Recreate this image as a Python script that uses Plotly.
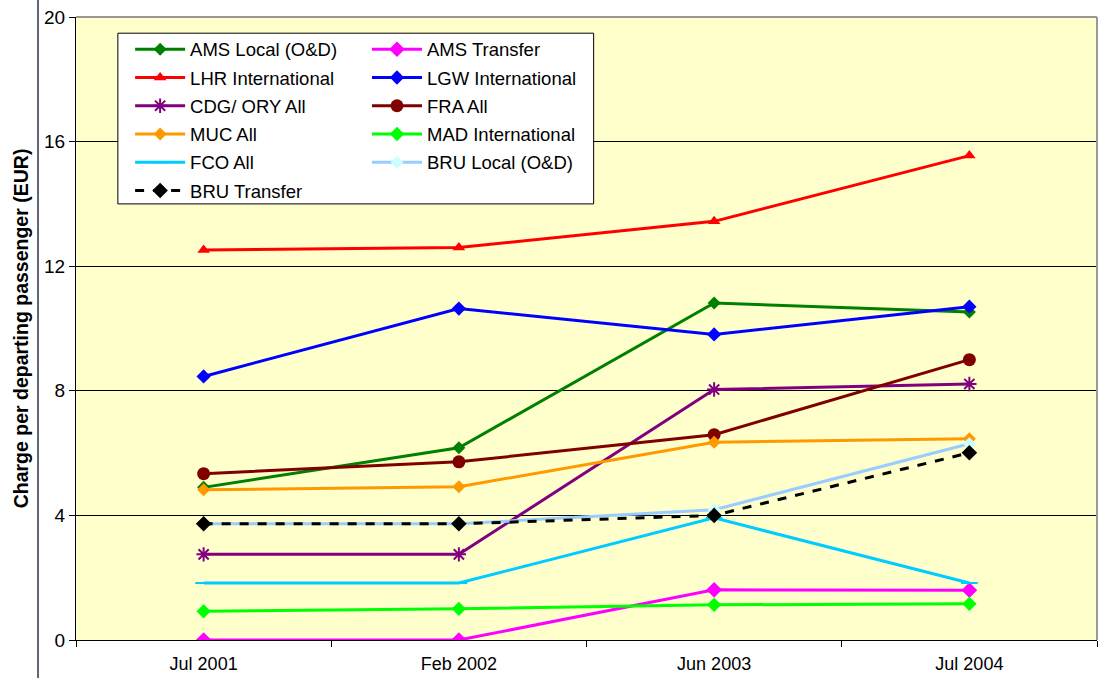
import plotly.graph_objects as go

periods = ["Jul 2001", "Feb 2002", "Jun 2003", "Jul 2004"]

ams_local = [4.9, 6.17, 10.82, 10.53]
ams_transfer = [0.0, 0.0, 1.61, 1.6]
lhr_international = [12.52, 12.6, 13.44, 15.55]
lgw_international = [8.46, 10.64, 9.81, 10.7]
cdg_ory_all = [2.75, 2.75, 8.04, 8.22]
fra_all = [5.34, 5.72, 6.59, 9.0]
muc_all = [4.82, 4.92, 6.35, 6.46]
mad_international = [0.92, 1.0, 1.13, 1.16]
fco_all = [1.83, 1.83, 3.92, 1.83]
bru_local = [3.73, 3.73, 4.18, 6.3]
bru_transfer = [3.73, 3.73, 4.0, 6.01]

series = [
    # name, values, colour, marker symbol, marker size, marker colour, dash, legend
    ("AMS Local (O&D)", ams_local, "#008000", "diamond", 10, "#008000", "solid", "legend"),
    ("AMS Transfer", ams_transfer, "#FF00FF", "diamond", 12, "#FF00FF", "solid", "legend2"),
    ("LHR International", lhr_international, "#FF0000", "triangle-up", 11, "#FF0000", "solid", "legend"),
    ("LGW International", lgw_international, "#0000FF", "diamond", 11, "#0000FF", "solid", "legend2"),
    ("CDG/ ORY All", cdg_ory_all, "#800080", "asterisk-open", 12, "#800080", "solid", "legend"),
    ("FRA All", fra_all, "#800000", "circle", 13, "#800000", "solid", "legend2"),
    ("MUC All", muc_all, "#FF9900", "diamond", 10, "#FF9900", "solid", "legend"),
    ("MAD International", mad_international, "#00FF00", "diamond", 11, "#00FF00", "solid", "legend2"),
    ("FCO All", fco_all, "#00CCFF", "line-ew-open", 12, "#00CCFF", "solid", "legend"),
    ("BRU Local (O&D)", bru_local, "#99CCFF", "diamond", 10, "#CCFFFF", "solid", "legend2"),
    ("BRU Transfer", bru_transfer, "#000000", "diamond", 12, "#000000", "dash", "legend"),
]

fig = go.Figure()
for i, (name, vals, col, sym, size, mcol, dash, leg) in enumerate(series):
    fig.add_trace(go.Scatter(
        x=periods, y=vals, name=name, mode="lines+markers",
        line=dict(color=col, width=3, dash=dash),
        marker=dict(symbol=sym, size=size, color=mcol,
                    line=dict(color=mcol, width=2 if "open" in sym else 0)),
        legend=leg, legendgroup=f"g{i}",
    ))

font_family = "Liberation Sans, Arial, sans-serif"

legend_common = dict(
    bgcolor="rgba(0,0,0,0)", borderwidth=0,
    font=dict(family=font_family, size=18.5, color="#000000"),
    itemwidth=50, tracegroupgap=1.2, orientation="v",
    xanchor="left", yanchor="top", itemclick=False,
)

fig.update_layout(
    width=1101, height=678,
    margin=dict(l=76, r=4, t=17, b=38),
    paper_bgcolor="#FFFFFF",
    plot_bgcolor="#FFFFCC",
    showlegend=True,
    legend=dict(x=0.053, y=0.978, **legend_common),
    legend2=dict(x=0.285, y=0.978, **legend_common),
    xaxis=dict(
        type="category", range=[-0.5, 3.5],
        tickson="boundaries", ticks="outside", ticklen=6, tickcolor="#000000",
        showline=True, linecolor="#000000", linewidth=1,
        showgrid=False, zeroline=False, ticklabelstandoff=7,
        tickfont=dict(family=font_family, size=18, color="#000000"),
    ),
    yaxis=dict(
        range=[0, 20], dtick=4, tick0=0,
        ticks="outside", ticklen=6, tickcolor="#000000",
        showline=True, linecolor="#000000", linewidth=1,
        showgrid=True, gridcolor="#000000", gridwidth=1,
        zeroline=False,
        tickfont=dict(family=font_family, size=19, color="#000000"),
        title=dict(text="<b>Charge per departing passenger (EUR)</b>", standoff=10,
                   font=dict(family=font_family, size=19.5, color="#000000")),
    ),
    shapes=[
        # outline of the plot area on the top and right
        dict(type="line", xref="paper", yref="paper", x0=0, x1=1, y0=1, y1=1,
             line=dict(color="#999999", width=2), layer="above"),
        dict(type="line", xref="paper", yref="paper", x0=1, x1=1, y0=0, y1=1,
             line=dict(color="#999999", width=2), layer="above"),
        # legend frame
        dict(type="rect", xref="paper", yref="paper",
             x0=0.041, x1=0.507, y0=0.700, y1=0.974,
             fillcolor="#FFFFFF", line=dict(color="#000000", width=1), layer="above"),
        # chart frame edge on the left
        dict(type="line", xref="paper", yref="paper", x0=-0.0372, x1=-0.0372, y0=-0.07, y1=1.03,
             line=dict(color="#5F6675", width=2), layer="above"),
    ],
)

fig.write_html("out.html")
